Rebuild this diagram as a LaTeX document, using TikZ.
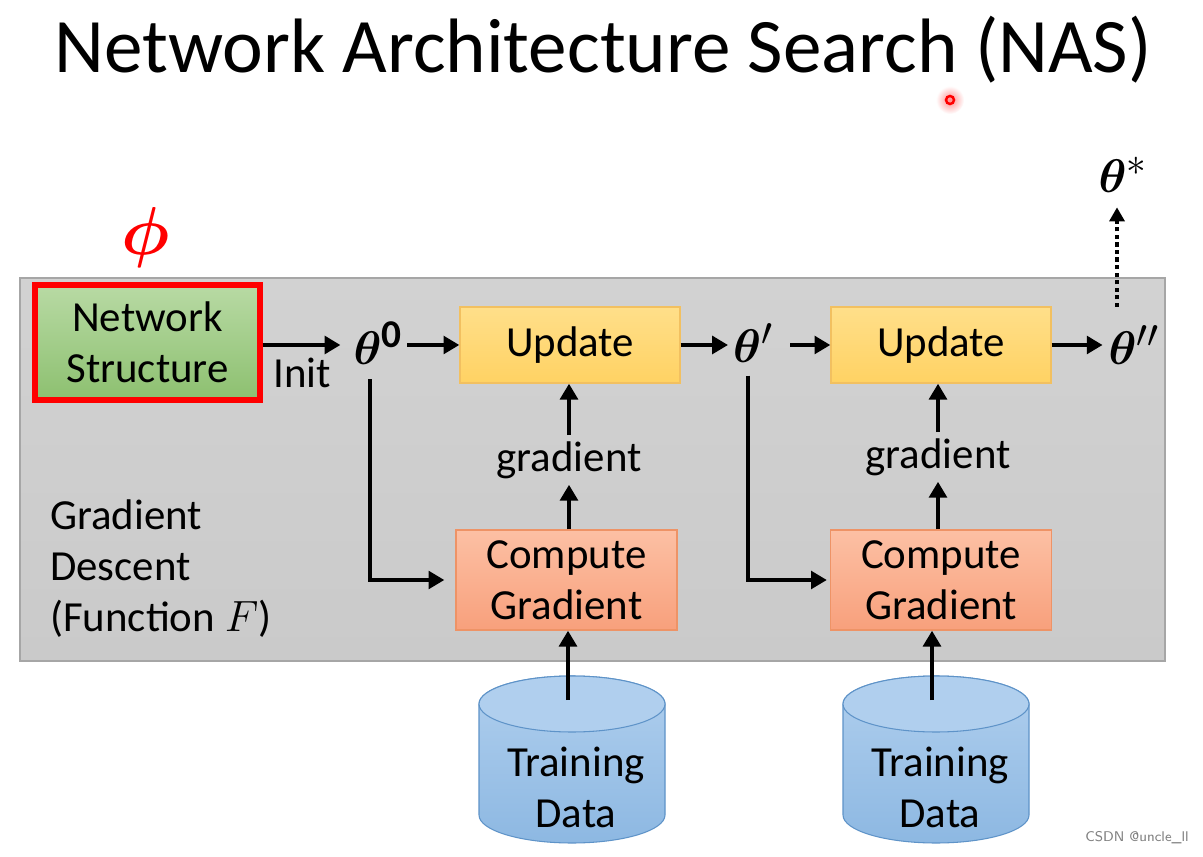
\documentclass[tikz,border=0pt]{standalone}
\usepackage{amsmath,amssymb,bm}
\usepackage{fontspec}
\setmainfont{Carlito}
\usetikzlibrary{arrows.meta,shadings}
\definecolor{panelfill}{HTML}{CACACA}
\definecolor{paneldraw}{HTML}{A6A6A6}
\definecolor{updtop}{HTML}{FFDF8A}
\definecolor{updbot}{HTML}{FFD263}
\definecolor{upddraw}{HTML}{F2C060}
\definecolor{cmptop}{HTML}{FCC0A4}
\definecolor{cmpbot}{HTML}{F8A07C}
\definecolor{cmpdraw}{HTML}{EE9366}
\definecolor{grntop}{HTML}{B8DAA4}
\definecolor{grnbot}{HTML}{8DC070}
\definecolor{cyltop}{HTML}{B0CFEE}
\definecolor{cylbot}{HTML}{8DB8E2}
\definecolor{cyldraw}{HTML}{5E93C8}
\tikzset{
  x=0.02cm, y=-0.02cm,
  body/.style={font=\fontsize{24.4}{29}\selectfont, align=center},
  upbox/.style={body, draw=upddraw, line width=0.8pt, top color=updtop, bottom color=updbot, minimum width=4.4cm, minimum height=1.52cm, inner sep=0pt},
  cgbox/.style={body, draw=cmpdraw, line width=0.8pt, top color=cmptop, bottom color=cmpbot, minimum width=4.42cm, minimum height=2cm, inner sep=0pt},
  th/.style={font=\fontsize{24.88}{30}\selectfont, inner sep=1pt},
  arr/.style={line width=2.3pt, -{Triangle[length=9pt,width=10pt]}},
}
\begin{document}
\begin{tikzpicture}
\useasboundingbox (0,0) rectangle (1203,857);
\fill[white] (0,0) rectangle (1203,857);
% title
\node[font=\fontsize{43.9}{50}\selectfont] (title) at (603,50) {Network Architecture Search (NAS)};
% laser pointer dot
\shade[inner color=red!45, outer color=white] (950,100) circle (14);
\draw[red, line width=1.4pt] (950,100) circle (4);
% panel
\draw[paneldraw, line width=0.8pt, top color=panelfill!85!white, bottom color=panelfill] (20,278) rectangle (1165,661);
% phi
\node[text=red, font=\fontsize{24.88}{30}\selectfont] (phi) at (146,238) {\scalebox{1.55}{$\bm{\phi}$}};
% network structure
\node[body, draw=red, line width=3pt, top color=grntop, bottom color=grnbot, minimum width=4.5cm, minimum height=2.3cm, inner sep=0pt] (ns) at (147.5,342.5) {Network\\Structure};
\node[body] (init) at (302,373) {Init};
% thetas
\node[th] (th0) at (378,343) {\scalebox{1.08}{$\bm{\theta}^{\mathbf{0}}$}};
\node[th] (th1) at (753,343) {\scalebox{1.08}{$\bm{\theta}'$}};
\node[th] (th2) at (1134,345) {\scalebox{1.08}{$\bm{\theta}''$}};
\node[th] (ths) at (1123,175) {\scalebox{1.08}{$\bm{\theta}^{*}$}};
% boxes
\node[upbox] (up1) at (570,345) {Update};
\node[upbox] (up2) at (941,345) {Update};
\node[cgbox] (cg1) at (566.5,580) {Compute\\Gradient};
\node[cgbox] (cg2) at (941,580) {Compute\\Gradient};
\node[body] (g1) at (569,460) {gradient};
\node[body] (g2) at (938,457) {gradient};
% left text
\node[body, align=left, anchor=north west] (gd) at (44,494) {Gradient\\Descent\\(Function $F$)};
% cylinders
\foreach \cx/\nm in {572/td1, 936/td2}{
  \path[draw=cyldraw, line width=0.6pt, top color=cyltop, bottom color=cylbot]
    (\cx-93,704) -- (\cx-93,815) arc[start angle=180, end angle=0, x radius=93, y radius=28] -- (\cx+93,704) arc[start angle=0, end angle=-180, x radius=93, y radius=28] -- cycle;
  \path[draw=cyldraw, line width=0.6pt, fill=cyltop] (\cx,704) ellipse[x radius=93, y radius=28];
  \coordinate (\nm) at (\cx-4,700);
}
\node[body] (tdt1) at (576,787) {Training\\Data};
\node[body] (tdt2) at (940,787) {Training\\Data};
% connectors
\draw[arr] (ns.east |- up1.west) -- ([xshift=-0.22cm]th0.west |- up1.west);
\draw[arr] ([xshift=0.05cm]th0.east |- up1.west) -- (up1.west);
\draw[arr] (up1.east) -- ([xshift=-0.06cm]th1.west |- up1.east);
\draw[arr] ([xshift=0.3cm]th1.east |- up2.west) -- (up2.west);
\draw[arr] (up2.east) -- ([xshift=-0.08cm]th2.west |- up2.east);
\draw[line width=2.4pt, dash pattern=on 2.4pt off 1.9pt, -{Triangle[length=8pt,width=8.5pt]}] (1117,307) -- ([yshift=-0.25cm]ths.south -| 1117,0);
\draw[arr] ([xshift=-0.16cm,yshift=-0.25cm]th0.south) |- ([xshift=-0.22cm]cg1.west);
\draw[arr] ([xshift=-0.1cm,yshift=-0.22cm]th1.south) |- ([xshift=-0.06cm]cg2.west);
\draw[arr] (g1.south |- cg1.north) -- (g1.south);
\draw[arr] (g1.north) -- (g1.north |- up1.south);
\draw[arr] (g2.south |- cg2.north) -- (g2.south);
\draw[arr] (g2.north) -- (g2.north |- up2.south);
\draw[arr] (td1) -- (td1 |- cg1.south);
\draw[arr] (td2) -- (td2 |- cg2.south);
% watermark
\node[text=gray, font=\fontsize{8}{9}\selectfont\sffamily] (wm) at (1137,838) {CSDN @uncle\_ll};
\end{tikzpicture}
\end{document}
